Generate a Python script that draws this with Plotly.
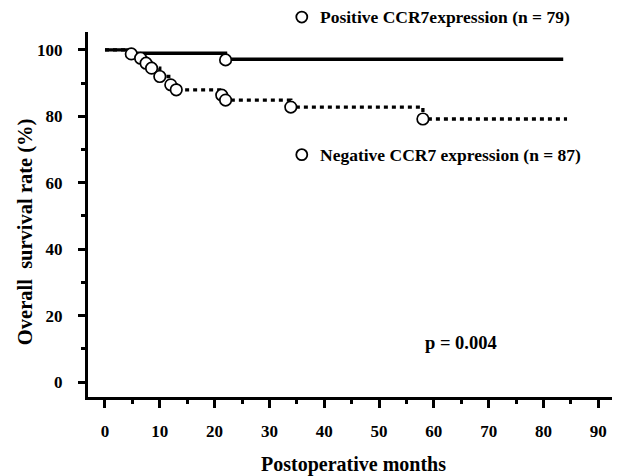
import plotly.graph_objects as go

# Kaplan-Meier step data
pos_months = [0, 5.0, 22.0, 83.6]
pos_surv = [100, 99.0, 97.2, 97.2]
pos_event_months = [22.0]
pos_event_surv = [97.0]

neg_months = [0, 4.8, 6.5, 7.5, 8.5, 10.0, 12.0, 13.0, 21.3, 22.0, 33.9, 58.0, 84.3]
neg_surv = [100, 98.8, 97.5, 96.0, 94.5, 92.0, 89.5, 88.0, 86.4, 84.9, 82.8, 79.2, 79.2]
neg_event_months = [4.8, 6.5, 7.5, 8.5, 10.0, 12.0, 13.0, 21.3, 22.0, 33.9, 58.0]
neg_event_surv = [98.8, 97.5, 96.0, 94.5, 92.0, 89.5, 88.0, 86.4, 84.9, 82.8, 79.2]

x_ticks = [0, 10, 20, 30, 40, 50, 60, 70, 80, 90]
y_ticks = [0, 20, 40, 60, 80, 100]

pos_label = "Positive CCR7expression (n = 79)"
neg_label = "Negative CCR7 expression (n = 87)"
p_label = "p = 0.004"
x_title = "Postoperative months"
y_title = "Overall  survival rate (%)"

FONT = "Liberation Serif"

fig = go.Figure()
fig.add_trace(go.Scatter(x=pos_months, y=pos_surv, mode="lines", line_shape="hv",
                         line=dict(color="black", width=3.3), showlegend=False))
fig.add_trace(go.Scatter(x=neg_months, y=neg_surv, mode="lines", line_shape="hv",
                         line=dict(color="black", width=3.3, dash="4px,4px"), showlegend=False))
marker = dict(symbol="circle", size=11.5, color="white", line=dict(color="black", width=1.7))
fig.add_trace(go.Scatter(x=neg_event_months, y=neg_event_surv, mode="markers",
                         marker=marker, showlegend=False))
fig.add_trace(go.Scatter(x=pos_event_months, y=pos_event_surv, mode="markers",
                         marker=marker, showlegend=False))

tickfont = dict(family=FONT, size=17, color="black")
fig.update_xaxes(range=[-3.1, 92.5], tickvals=x_ticks, ticktext=["<b>%d</b>" % v for v in x_ticks],
                 showline=True, linecolor="black", linewidth=3, ticks="outside",
                 ticklen=8, tickwidth=3, tickcolor="black", showgrid=False, zeroline=False,
                 ticklabelstandoff=9, tickfont=tickfont, automargin=False,
                 minor=dict(dtick=5, tick0=0, ticks="outside", ticklen=4, tickwidth=2.5,
                            tickcolor="black", showgrid=False))
fig.update_yaxes(range=[-4.5, 105.4], tickvals=y_ticks, ticktext=["<b>%d</b>" % v for v in y_ticks],
                 showline=True, linecolor="black", linewidth=3, ticks="outside",
                 ticklen=7, tickwidth=3, tickcolor="black", showgrid=False, zeroline=False,
                 ticklabelstandoff=12, tickfont=tickfont, automargin=False,
                 minor=dict(dtick=10, tick0=0, ticks="outside", ticklen=4, tickwidth=2.5,
                            tickcolor="black", showgrid=False))

annfont = dict(family=FONT, size=17.5, color="black")
fig.add_annotation(text="<b>%s</b>" % pos_label, xref="paper", yref="paper", x=0.439, y=1.041,
                   xanchor="left", yanchor="middle", showarrow=False, font=annfont)
fig.add_annotation(text="<b>%s</b>" % neg_label, xref="paper", yref="paper", x=0.439, y=0.664,
                   xanchor="left", yanchor="middle", showarrow=False, font=annfont)
fig.add_annotation(text="<b>%s</b>" % p_label, xref="paper", yref="paper", x=0.64, y=0.148,
                   xanchor="left", yanchor="middle", showarrow=False,
                   font=dict(family=FONT, size=18.5, color="black"))
fig.add_annotation(text="<b>%s</b>" % x_title, xref="paper", yref="paper", x=0.506, y=-0.186,
                   xanchor="center", yanchor="middle", showarrow=False,
                   font=dict(family=FONT, size=20, color="black"))
fig.add_annotation(text="<b>%s</b>" % y_title, xref="paper", yref="paper", x=-0.12, y=0.452,
                   xanchor="center", yanchor="middle", showarrow=False, textangle=-90,
                   font=dict(family=FONT, size=20.5, color="black"))

for cx, cy in [(0.408, 1.041), (0.408, 0.664)]:
    fig.add_shape(type="circle", xref="paper", yref="paper", xsizemode="pixel", ysizemode="pixel",
                  xanchor=cx, yanchor=cy, x0=-5.5, x1=5.5, y0=-5.5, y1=5.5,
                  line=dict(color="black", width=1.8), fillcolor="white")

fig.update_layout(width=618, height=476, margin=dict(l=88, r=6, t=32, b=79),
                  plot_bgcolor="white", paper_bgcolor="white", showlegend=False)

fig.write_html("out.html", config={"displayModeBar": False},
               post_script="document.body.style.margin='0px';document.body.style.padding='0px';")
